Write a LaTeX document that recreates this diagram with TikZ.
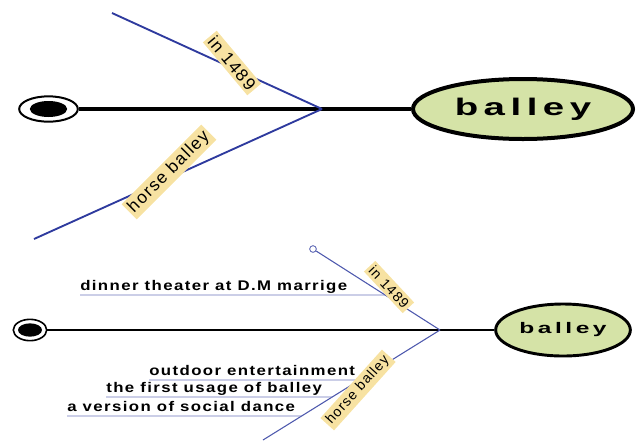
\documentclass[tikz,border=0pt]{standalone}
\usepackage{fontspec}
\setmainfont{Liberation Sans}
\newfontfamily\leaffont[LetterSpace=10,FakeStretch=1.2]{Liberation Sans}
\newfontfamily\tagfont[LetterSpace=8]{Liberation Sans}
\newfontfamily\headfont[LetterSpace=23,FakeStretch=1.6]{Liberation Sans}
\usetikzlibrary{shapes.geometric}
\definecolor{bonecolor}{HTML}{2E3A9E}
\definecolor{headgreen}{HTML}{D5E3A7}
\definecolor{tagyellow}{HTML}{F7E2A2}

\begin{document}
\begin{tikzpicture}[x=0.75pt, y=-0.75pt,
        spine/.style={draw, line width=3pt},
        bone/.style={draw=bonecolor, line width=1.4pt},
        thinbone/.style={draw=bonecolor!85, line width=0.8pt},
        subbone/.style={draw=bonecolor!70, line width=0.6pt},
        head/.style={ellipse, draw, fill=headgreen, line width=3pt, inner sep=0pt},
        tail/.style={ellipse, draw, line width=1.5pt, inner sep=0pt},
        eye/.style={ellipse, fill=black, inner sep=0pt},
        tag/.style={fill=tagyellow, inner sep=2pt},
        leaf/.style={anchor=south west, inner sep=0pt, text depth=3pt, font=\leaffont\bfseries\fontsize{10.5}{12}\selectfont}
    ]
    \useasboundingbox (0,0) rectangle (641,440);

    % first fish
    \node[tail, minimum width=44pt, minimum height=19pt] (tail1) at (48.5,109) {};
    \node[eye, minimum width=28pt, minimum height=12pt] (eye1) at (tail1) {};
    \node[head, minimum width=165pt, minimum height=45pt, font=\headfont\bfseries\fontsize{18}{20}\selectfont] (head1) at (523,109) {balley};
    \coordinate (j1) at (322,109);
    \coordinate (up1) at (112,13);
    \coordinate (low1) at (34,239);

    \draw[spine] (tail1) -- (head1);
    \draw[bone] (up1) -- (j1);
    \draw[bone] (low1) -- (j1);

    \node[tag, rotate=-50, font=\tagfont\fontsize{13}{15}\selectfont] (when1) at (232,63) {in 1489};
    \node[tag, rotate=45, font=\tagfont\fontsize{13}{15}\selectfont] (horse1) at (169,172) {horse balley};

    % second fish
    \node[tail, minimum width=25pt, minimum height=16pt, line width=1.2pt] (tail2) at (30,330) {};
    \node[eye, minimum width=18pt, minimum height=10pt] (eye2) at (tail2) {};
    \node[head, minimum width=101pt, minimum height=39pt, line width=2.2pt, font=\headfont\bfseries\fontsize{11.5}{14}\selectfont] (head2) at (563,330) {balley};
    \coordinate (j2) at (440,330);
    \node[circle, draw=bonecolor!85, line width=0.6pt, inner sep=0pt, minimum size=5pt] (knob) at (313,249) {};
    \coordinate (low2) at (263,440);

    \draw[spine, line width=2.2pt] (tail2) -- (head2);
    \draw[thinbone] (knob) -- (j2);
    \draw[thinbone] (low2) -- (j2);

    \node[leaf] (dinner) at (80,295) {dinner theater at D.M marrige};
    \node[leaf] (outdoor) at (149,380) {outdoor entertainment};
    \node[leaf] (usage) at (106,397) {the first usage of balley};
    \node[leaf] (social) at (67,416) {a version of social dance};

    \draw[subbone] (dinner.south west) -- (intersection of dinner.south west--dinner.south east and knob--j2);
    \draw[subbone] (outdoor.south west) -- (intersection of outdoor.south west--outdoor.south east and low2--j2);
    \draw[subbone] (usage.south west) -- (intersection of usage.south west--usage.south east and low2--j2);
    \draw[subbone] (social.south west) -- (intersection of social.south west--social.south east and low2--j2);

    \node[tag, rotate=-47, font=\tagfont\fontsize{10.5}{12}\selectfont] (when2) at (389,287) {in 1489};
    \node[tag, rotate=48, font=\tagfont\fontsize{10.5}{12}\selectfont] (horse2) at (358,390) {horse balley};
\end{tikzpicture}
\end{document}
